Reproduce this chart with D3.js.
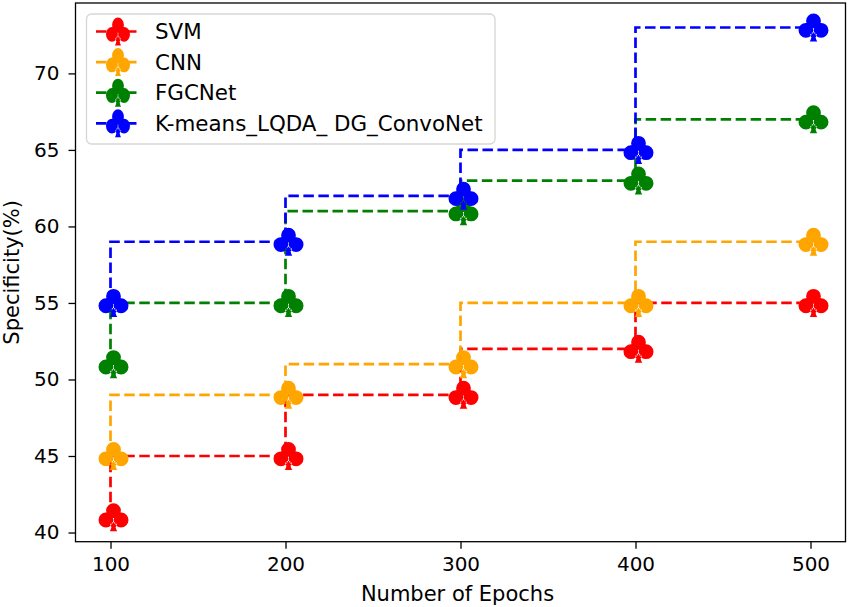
<!DOCTYPE html>
<html>
<head>
<meta charset="utf-8">
<script src="https://cdn.jsdelivr.net/npm/d3@7"></script>
<style>
  html, body { margin: 0; padding: 0; background: #fff; }
  svg { display: block; font-family: "DejaVu Sans", sans-serif; }
</style>
</head>
<body>
<svg id="chart" width="850" height="607"></svg>
<script>
// ---- data ----
const epochs = [100, 200, 300, 400, 500];
const seriesNames = ["SVM", "CNN", "FGCNet", "K-means_LQDA_ DG_ConvoNet"];
const svmValues = [41, 45, 49, 52, 55];
const cnnValues = [45, 49, 51, 55, 59];
const fgcnetValues = [51, 55, 61, 63, 67];
const kmeansValues = [55, 59, 62, 65, 73];
const seriesColors = ["#ff0000", "#ffa500", "#008000", "#0000ff"];
const xTicks = [100, 200, 300, 400, 500];
const yTicks = [40, 45, 50, 55, 60, 65, 70];
const xLabel = "Number of Epochs";
const yLabel = "Specificity(%)";

const allSeries = [svmValues, cnnValues, fgcnetValues, kmeansValues].map((vals, i) => ({
  name: seriesNames[i], color: seriesColors[i],
  points: epochs.map((e, j) => ({ x: e, y: vals[j] }))
}));

// ---- layout ----
const plotL = 75.5, plotR = 845.5, plotT = 3, plotB = 541.7;
const svg = d3.select("#chart");

const x = d3.scaleLinear().domain([80, 520]).range([plotL, plotR]);
const y = d3.scaleLinear().domain([39.4, 74.6]).range([plotB, plotT]);

// club marker path centred on origin
function circ(cx, cy, r) {
  return `M${cx - r},${cy}a${r},${r} 0 1,0 ${2 * r},0a${r},${r} 0 1,0 ${-2 * r},0Z`;
}
const clubPath = circ(0, -6.6, 7.4) + circ(-7.6, 2.8, 7.4) + circ(7.6, 2.8, 7.4) + circ(0, 1, 6.5) +
  "M-6,-1L6,-1L2.5,9.5L-2.5,9.5Z" +
  "M-1.6,5L1.6,5Q1.8,11.5 3.8,14L-3.8,14Q-1.8,11.5 -1.6,5Z";
const markerDx = 3;

// ---- axes ----
const gx = svg.append("g").attr("transform", `translate(0,${plotB})`)
  .call(d3.axisBottom(x).tickValues(xTicks).tickSize(7).tickPadding(8).tickSizeOuter(0));
const gy = svg.append("g").attr("transform", `translate(${plotL},0)`)
  .call(d3.axisLeft(y).tickValues(yTicks).tickSize(7).tickPadding(9).tickSizeOuter(0));
[gx, gy].forEach(g => {
  g.select(".domain").remove();
  g.selectAll(".tick line").attr("stroke", "#000").attr("stroke-width", 1.3);
  g.selectAll(".tick text").attr("fill", "#000").style("font-size", "20px")
    .style("font-family", "DejaVu Sans");
});

// ---- series ----
const line = d3.line().x(d => x(d.x)).y(d => y(d.y)).curve(d3.curveStepBefore);
const plot = svg.append("g");
allSeries.forEach(s => {
  const g = plot.append("g");
  g.append("path").datum(s.points)
    .attr("d", line).attr("fill", "none").attr("stroke", s.color)
    .attr("stroke-width", 2.7).attr("stroke-dasharray", "10.5,4.5");
  g.selectAll("path.mk").data(s.points).join("path").attr("class", "mk")
    .attr("d", clubPath)
    .attr("transform", d => `translate(${x(d.x) + markerDx},${y(d.y)})`)
    .attr("fill", s.color);
});

// ---- spines ----
svg.append("rect").attr("x", plotL).attr("y", plotT)
  .attr("width", plotR - plotL).attr("height", plotB - plotT)
  .attr("fill", "none").attr("stroke", "#000").attr("stroke-width", 1.3);

// ---- labels ----
svg.append("text").attr("x", (plotL + plotR) / 2 - 3).attr("y", 601)
  .attr("text-anchor", "middle").style("font-size", "21px").text(xLabel);
svg.append("text").attr("transform", `translate(19,${(plotT + plotB) / 2}) rotate(-90)`)
  .attr("text-anchor", "middle").style("font-size", "21px").text(yLabel);

// ---- legend ----
const leg = svg.append("g");
leg.append("rect").attr("x", 86.5).attr("y", 14).attr("width", 408.5).attr("height", 130)
  .attr("rx", 5).attr("fill", "#fff").attr("fill-opacity", 0.8)
  .attr("stroke", "#d6d6d6").attr("stroke-width", 1.3);
allSeries.forEach((s, i) => {
  const cy = 31.5 + i * 30.6;
  const row = leg.append("g");
  row.append("line").attr("x1", 96).attr("x2", 137).attr("y1", cy).attr("y2", cy)
    .attr("stroke", s.color).attr("stroke-width", 2.7).attr("stroke-dasharray", "10.5,4.5");
  row.append("path").attr("d", clubPath)
    .attr("transform", `translate(118,${cy}) scale(0.8,1)`).attr("fill", s.color);
  row.append("text").attr("x", 155).attr("y", cy + 7.5)
    .style("font-size", "21.4px").attr("fill", "#000").text(s.name);
});
</script>
</body>
</html>
